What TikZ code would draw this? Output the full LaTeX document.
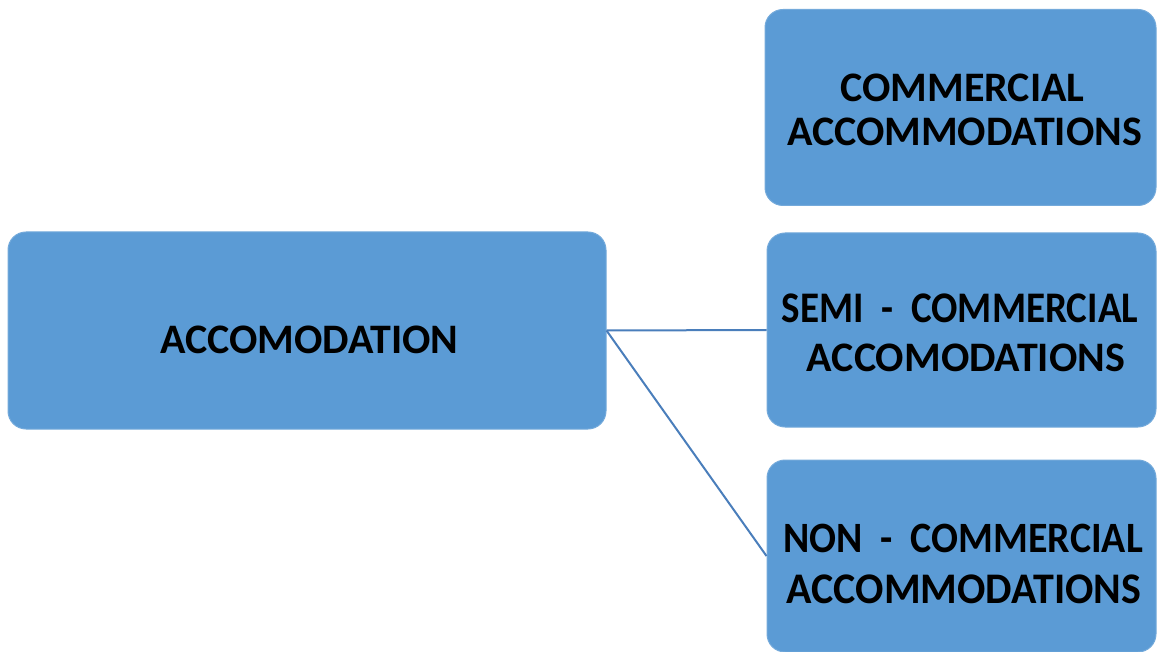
\documentclass[tikz,border=0pt]{standalone}
\usepackage{fontspec}
\setmainfont{Carlito}
\definecolor{boxfill}{HTML}{5B9BD5}
\definecolor{linkcol}{HTML}{4A7EBB}
\tikzset{
  box/.style={fill=boxfill, draw=boxfill!85!white, line width=1pt, rounded corners=18pt, inner sep=0pt},
  lbl/.style={anchor=base, inner sep=0pt, font=\fontsize{42}{45}\selectfont\bfseries, text=black},
  link/.style={draw=linkcol, line width=2pt}
}
\begin{document}
\begin{tikzpicture}[x=1pt,y=-1pt]
\useasboundingbox (0,0) rectangle (1157,652);
\node[box, minimum width=598pt, minimum height=197pt] (acc) at (307,330.5) {};
\node[box, minimum width=391pt, minimum height=196pt] (com) at (960.5,107.5) {};
\node[box, minimum width=389pt, minimum height=194pt] (semi) at (961.5,330) {};
\node[box, minimum width=389pt, minimum height=192pt] (non) at (961.5,556) {};
\node[lbl] (accT) at (309.5,354) {ACCOMODATION};
\node[lbl] (comT1) at (962.5,102) {COMMERCIAL};
\node[lbl] (comT2) at (964.5,146) {ACCOMMODATIONS};
\node[lbl] (semiT1) at (960,323) {\scalebox{0.93}[1.04]{SEMI\ \ -\ \ COMMERCIAL}};
\node[lbl] (semiT2) at (966,372) {ACCOMODATIONS};
\node[lbl] (nonT1) at (963,552) {\scalebox{0.95}[1.03]{NON\ \ -\ \ COMMERCIAL}};
\node[lbl] (nonT2) at (964,603) {\scalebox{1}[1.04]{ACCOMMODATIONS}};
\draw[link] (acc.east) -- (semi.west);
\draw[link] (acc.east) -- (non.west);
\end{tikzpicture}
\end{document}
